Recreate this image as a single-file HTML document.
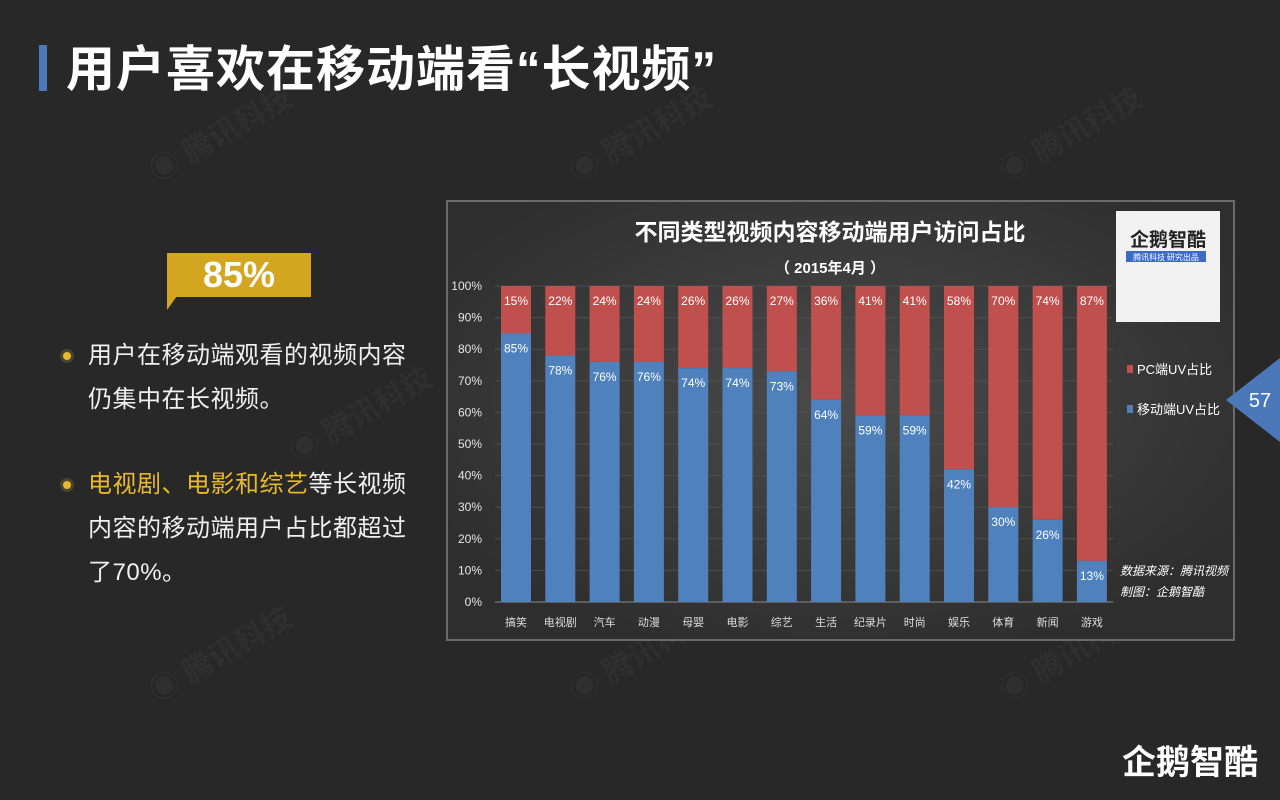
<!DOCTYPE html>
<html><head><meta charset="utf-8"><style>
body{margin:0;width:1280px;height:800px;background:#282828;position:relative;overflow:hidden;font-family:"Liberation Sans","Noto Sans CJK SC",sans-serif;color:#fff}
.a{position:absolute}
.t{font-size:24px;line-height:44px;color:#f0f0f0;white-space:nowrap;letter-spacing:0.5px}
.dot{width:8px;height:8px;border-radius:50%;background:#e8b92a;box-shadow:0 0 0 3px #4a4330}
.wm{color:#2f2f2f;font-size:30px;font-weight:bold;transform:rotate(-30deg);white-space:nowrap}
</style></head><body>
<div class="a wm" style="left:140px;top:110px">◉ 腾讯科技</div>
<div class="a wm" style="left:560px;top:110px">◉ 腾讯科技</div>
<div class="a wm" style="left:990px;top:110px">◉ 腾讯科技</div>
<div class="a wm" style="left:280px;top:390px">◉ 腾讯科技</div>
<div class="a wm" style="left:140px;top:630px">◉ 腾讯科技</div>
<div class="a wm" style="left:560px;top:630px">◉ 腾讯科技</div>
<div class="a wm" style="left:990px;top:630px">◉ 腾讯科技</div>
<div class="a" style="left:39px;top:45px;width:8px;height:46px;background:#4a78b8"></div>
<div class="a" style="left:66px;top:38px;font-size:49px;font-weight:bold;line-height:64px;white-space:nowrap;letter-spacing:1px">用户喜欢在移动端看“长视频”</div>

<div class="a" style="left:167px;top:253px;width:144px;height:44px;background:#d4a620"></div>
<div class="a" style="left:167px;top:296px;width:0;height:0;border-top:14px solid #d4a620;border-right:10px solid transparent"></div>
<div class="a" style="left:167px;top:253px;width:144px;height:44px;font-size:36px;line-height:44px;text-align:center;font-weight:bold">85%</div>

<div class="a dot" style="left:63px;top:352px"></div>
<div class="a t" style="left:88px;top:334px">用户在移动端观看的视频内容<br>仍集中在长视频。</div>
<div class="a dot" style="left:63px;top:481px"></div>
<div class="a t" style="left:88px;top:463px"><span style="color:#e8b92a">电视剧、电影和综艺</span>等长视频<br>内容的移动端用户占比都超过<br>了70%。</div>

<svg class="a" style="left:446px;top:200px" width="790" height="442" viewBox="446 200 790 442">
<defs><radialGradient id="g" cx="50%" cy="45%" r="60%"><stop offset="0" stop-color="#4a4a4a"/><stop offset="1" stop-color="#2e2e2e"/></radialGradient></defs>
<rect x="447" y="201" width="787" height="439" fill="url(#g)" stroke="#6a6a6a" stroke-width="2"/>
<text x="830" y="240" fill="#fff" font-size="23" font-weight="bold" text-anchor="middle" font-family="Liberation Sans,Noto Sans CJK SC,sans-serif">不同类型视频内容移动端用户访问占比</text>
<text x="830" y="273" fill="#fff" font-size="15" font-weight="bold" text-anchor="middle" font-family="Liberation Sans,Noto Sans CJK SC,sans-serif">（ 2015年4月 ）</text>
<g id="grid" stroke="none"></g>
<g id="bars"></g>
<rect x="1116" y="211" width="104" height="111" fill="#f2f2f2"/>
<text x="1168" y="246" fill="#222" font-size="19" font-weight="bold" text-anchor="middle" font-family="Noto Sans CJK SC,sans-serif">企鹅智酷</text>
<rect x="1126" y="251" width="80" height="11" fill="#3b6cc2"/>
<text x="1166" y="260" fill="#fff" font-size="8" text-anchor="middle" font-family="Noto Sans CJK SC,sans-serif">腾讯科技 研究出品</text>
<rect x="1127" y="365" width="6" height="8" fill="#c0504d"/>
<text x="1137" y="374" fill="#fff" font-size="13" font-family="Liberation Sans,Noto Sans CJK SC,sans-serif">PC端UV占比</text>
<rect x="1127" y="405" width="6" height="8" fill="#4f81bd"/>
<text x="1137" y="414" fill="#fff" font-size="13" font-family="Liberation Sans,Noto Sans CJK SC,sans-serif">移动端UV占比</text>
<text x="1120" y="575" fill="#fff" font-size="12" font-style="italic" font-family="Noto Sans CJK SC,sans-serif">数据来源：腾讯视频</text>
<text x="1120" y="596" fill="#fff" font-size="12" font-style="italic" font-family="Noto Sans CJK SC,sans-serif">制图：企鹅智酷</text>
</svg>
<svg class="a" style="left:1226px;top:358px" width="54" height="84"><polygon points="54,0 54,84 0,42" fill="#4a78b8"/><text x="34" y="49" fill="#fff" font-size="20" text-anchor="middle" font-family="Liberation Sans,sans-serif">57</text></svg>
<div class="a" style="left:1122px;top:735px;font-size:34px;font-weight:bold;color:#fff;white-space:nowrap;font-family:'Noto Sans CJK SC',sans-serif">企鹅智酷</div>
<script>
const cats=["搞笑","电视剧","汽车","动漫","母婴","电影","综艺","生活","纪录片","时尚","娱乐","体育","新闻","游戏"];
const m=[85,78,76,76,74,74,73,64,59,59,42,30,26,13];
const ns="http://www.w3.org/2000/svg";
const y0=602,H=316;
function el(t,a,p,txt){const e=document.createElementNS(ns,t);for(const k in a)e.setAttribute(k,a[k]);if(txt!=null)e.textContent=txt;p.appendChild(e);return e;}
const g=document.getElementById('grid'),b=document.getElementById('bars');
const F="Liberation Sans,Noto Sans CJK SC,sans-serif";
for(let i=0;i<=10;i++){const y=y0-H*i/10;el('line',{x1:495,x2:1113,y1:y,y2:y,stroke:i==0?'#888':'#4e4e4e','stroke-width':1},g);
el('text',{x:482,y:y+4,fill:'#e6e6e6','font-size':12,'text-anchor':'end','font-family':F},g,(i*10)+'%');}
m.forEach((v,i)=>{const x=501+i*44.3,ym=y0-H*v/100;
el('rect',{x:x,y:y0-H,width:30,height:H*(100-v)/100,fill:'#c0504d'},b);
el('rect',{x:x,y:ym,width:30,height:H*v/100,fill:'#4f81bd'},b);
el('text',{x:x+15,y:y0-H+19,fill:'#fff','font-size':12,'text-anchor':'middle','font-family':F},b,(100-v)+'%');
el('text',{x:x+15,y:ym+19,fill:'#fff','font-size':12,'text-anchor':'middle','font-family':F},b,v+'%');
el('text',{x:x+15,y:626,fill:'#ddd','font-size':11,'text-anchor':'middle','font-family':F},b,cats[i]);});
</script>
</body></html>
